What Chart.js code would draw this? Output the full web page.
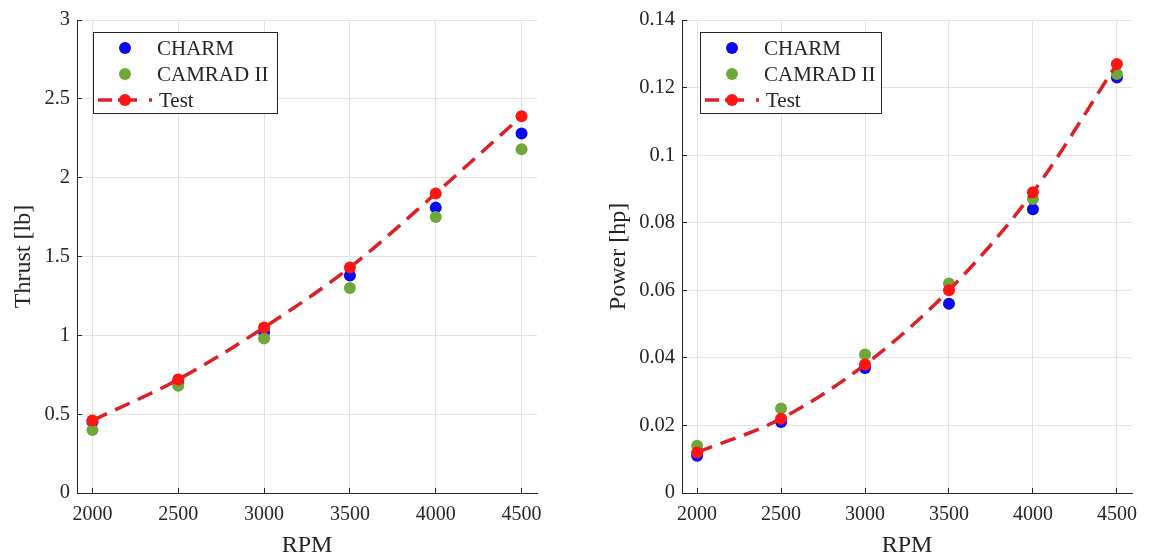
<!DOCTYPE html>
<html>
<head>
<meta charset="utf-8">
<title>Thrust and power vs RPM</title>
<script src="https://cdn.jsdelivr.net/npm/chart.js@4.4.1/dist/chart.umd.min.js"></script>
<style>
  body { margin: 0; background: #fff; }
  .panel { position: absolute; top: 0; width: 575px; height: 554px; }
</style>
</head>
<body>
<div class="panel" style="left:0"><canvas id="thrustChart" width="575" height="554"></canvas></div>
<div class="panel" style="left:575px"><canvas id="powerChart" width="575" height="554"></canvas></div>
<script>
const rpm = [2000, 2500, 3000, 3500, 4000, 4500];

const thrustCharm  = [0.45, 0.70, 1.02, 1.38, 1.81, 2.28];
const thrustCamrad = [0.40, 0.68, 0.98, 1.30, 1.75, 2.18];
const thrustTest   = [0.46, 0.72, 1.05, 1.43, 1.90, 2.39];

const powerCharm  = [0.011, 0.021, 0.037, 0.056, 0.084, 0.123];
const powerCamrad = [0.014, 0.025, 0.041, 0.062, 0.087, 0.124];
const powerTest   = [0.012, 0.022, 0.038, 0.060, 0.089, 0.127];

const rpmTicks    = [2000, 2500, 3000, 3500, 4000, 4500];
const thrustTicks = [0, 0.5, 1, 1.5, 2, 2.5, 3];
const powerTicks  = [0, 0.02, 0.04, 0.06, 0.08, 0.1, 0.12, 0.14];

const seriesNames = ['CHARM', 'CAMRAD II', 'Test'];

const SERIF = '"Liberation Serif", "Times New Roman", serif';
const AXIS = '#262626';
const GRID = '#e3e3e3';
const BLUE = '#0a0af0';
const GREEN = '#6fa83a';
const RED = '#ff1414';
const RED_LINE = '#dc2028';

/* boxed legend inside the upper-left corner of the plot */
const boxLegend = {
    id: 'boxLegend',
    afterDatasetsDraw(chart, args, opts) {
        const { ctx, chartArea } = chart;
        const x = Math.round(chartArea.left) + opts.dx;
        const y = Math.round(chartArea.top) + 12;
        const w = opts.width, h = 81;

        ctx.save();
        ctx.fillStyle = '#fff';
        ctx.fillRect(x, y, w, h);
        ctx.strokeStyle = AXIS;
        ctx.lineWidth = 1;
        ctx.strokeRect(x + 0.5, y + 0.5, w, h);

        ctx.font = '21px ' + SERIF;
        ctx.textBaseline = 'middle';
        chart.data.datasets.forEach((ds, i) => {
            const cy = y + 16 + i * 26;
            const mx = x + 32;
            if (ds.showLine) {
                ctx.strokeStyle = ds.borderColor;
                ctx.lineWidth = ds.borderWidth;
                ctx.setLineDash([14, 6, 19, 12, 3, 99]);
                ctx.beginPath();
                ctx.moveTo(x + 5, cy);
                ctx.lineTo(x + 60, cy);
                ctx.stroke();
                ctx.setLineDash([]);
            }
            ctx.fillStyle = ds.pointBackgroundColor;
            ctx.beginPath();
            ctx.arc(mx, cy, ds.pointRadius, 0, Math.PI * 2);
            ctx.fill();

            ctx.fillStyle = AXIS;
            ctx.fillText(ds.label, x + (ds.showLine ? 66 : 64), cy + 1);
        });
        ctx.restore();
    }
};

function dots(label, values, color, order) {
    return {
        label: label,
        data: rpm.map((r, i) => ({ x: r, y: values[i] })),
        showLine: false,
        pointRadius: 6,
        pointBackgroundColor: color,
        pointBorderWidth: 0,
        borderColor: color,
        order: order
    };
}

function makeChart(id, yTitle, yTicks, charm, camrad, test, g) {
    const ctx = document.getElementById(id).getContext('2d');

    return new Chart(ctx, {
        type: 'scatter',

        data: {
            datasets: [
                dots(seriesNames[0], charm, BLUE, 3),
                dots(seriesNames[1], camrad, GREEN, 2),
                {
                    label: seriesNames[2],
                    data: rpm.map((r, i) => ({ x: r, y: test[i] })),
                    showLine: true,
                    borderColor: RED_LINE,
                    borderWidth: 3.5,
                    borderDash: [16, 9],
                    cubicInterpolationMode: 'monotone',
                    pointRadius: 6,
                    pointBackgroundColor: RED,
                    pointBorderWidth: 0,
                    order: 1
                }
            ]
        },

        options: {
            responsive: false,
            animation: false,
            layout: {
                padding: { left: 0, right: g.right, top: 20, bottom: 0 }
            },

            plugins: {
                legend: { display: false },
                tooltip: { enabled: false },
                boxLegend: { width: g.legendWidth, dx: g.legendDx }
            },

            scales: {
                x: {
                    type: 'linear',
                    min: 1910,
                    max: 4590,
                    afterFit: s => {
                        s.height = 61;
                        s.paddingLeft = 0;
                        s.paddingRight = 0;
                    },
                    afterBuildTicks: s => { s.ticks = rpmTicks.map(v => ({ value: v })); },
                    ticks: {
                        color: AXIS,
                        padding: 15,
                        maxRotation: 0,
                        font: { family: SERIF, size: 20 },
                        callback: v => String(v)
                    },
                    grid: {
                        color: GRID,
                        tickColor: AXIS,
                        tickLength: -5,
                        drawTicks: true
                    },
                    border: { color: AXIS, width: 1 },
                    title: {
                        display: true,
                        text: 'RPM',
                        color: AXIS,
                        font: { family: SERIF, size: 24, lineHeight: 0.7 },
                        padding: 0
                    }
                },
                y: {
                    type: 'linear',
                    min: yTicks[0],
                    max: yTicks[yTicks.length - 1],
                    afterFit: s => {
                        s.width = g.axisLeft;
                        s.paddingTop = 0;
                        s.paddingBottom = 0;
                    },
                    afterBuildTicks: s => { s.ticks = yTicks.map(v => ({ value: v })); },
                    ticks: {
                        color: AXIS,
                        padding: 12,
                        font: { family: SERIF, size: 20.5 },
                        callback: v => String(+v.toFixed(2))
                    },
                    grid: {
                        color: GRID,
                        tickColor: AXIS,
                        tickLength: -5,
                        drawTicks: true
                    },
                    border: { color: AXIS, width: 1 },
                    title: {
                        display: true,
                        text: yTitle,
                        color: AXIS,
                        font: { family: SERIF, size: 24 },
                        padding: { top: g.titlePad, bottom: 0 }
                    }
                }
            }
        },

        plugins: [boxLegend]
    });
}

makeChart('thrustChart', 'Thrust [lb]', thrustTicks, thrustCharm, thrustCamrad, thrustTest,
    { axisLeft: 77, right: 38, titlePad: 9, legendWidth: 184, legendDx: 16 });

makeChart('powerChart', 'Power [hp]', powerTicks, powerCharm, powerCamrad, powerTest,
    { axisLeft: 107, right: 18, titlePad: 29, legendWidth: 181, legendDx: 18 });
</script>
</body>
</html>
